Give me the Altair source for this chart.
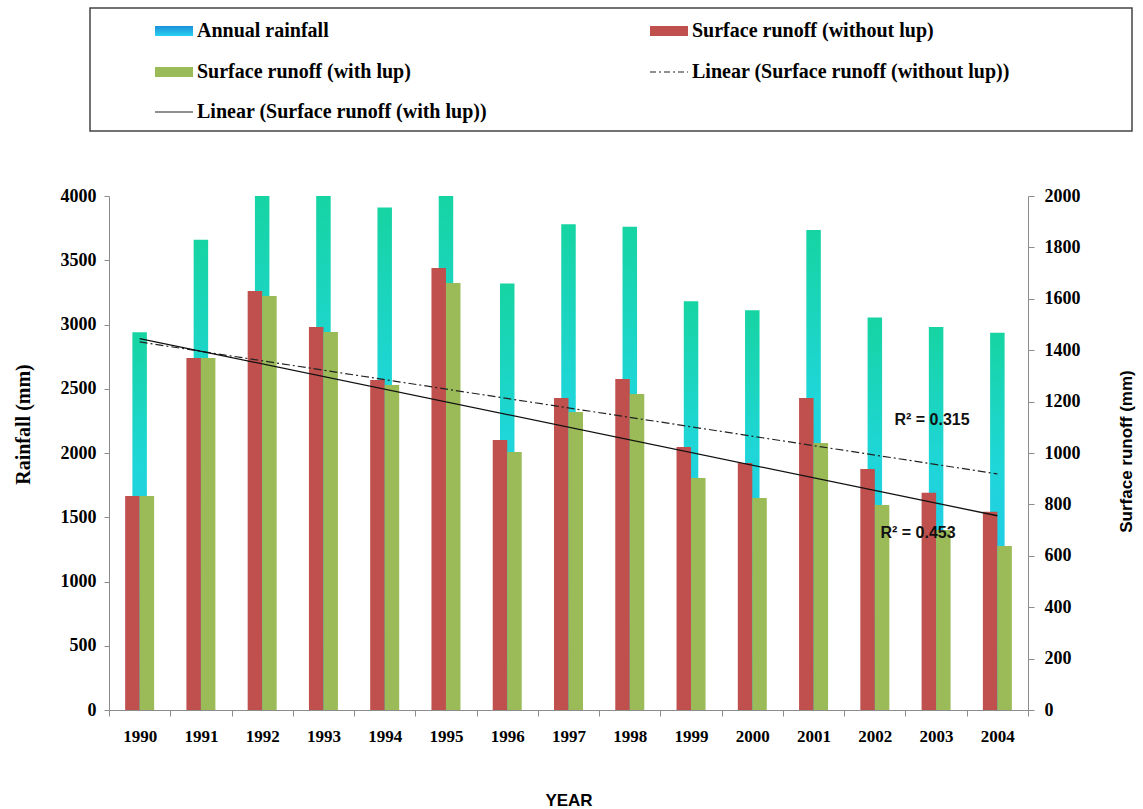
import altair as alt
import pandas as pd

# ---- data ----
years = list(range(1990, 2005))
rainfall = [2940, 3660, 4000, 4000, 3910, 4000, 3320, 3780, 3760, 3180, 3110, 3735, 3055, 2980, 2935]
runoff_without = [833, 1370, 1630, 1490, 1284, 1720, 1051, 1214, 1288, 1023, 961, 1214, 938, 845, 771]
runoff_with = [833, 1370, 1611, 1471, 1265, 1661, 1004, 1160, 1230, 903, 825, 1039, 798, 700, 638]
r2_labels = ["R\u00b2 = 0.315", "R\u00b2 = 0.453"]
legend_labels = [
    "Annual rainfall",
    "Surface runoff (without lup)",
    "Surface runoff (with lup)",
    "Linear (Surface runoff (without lup))",
    "Linear (Surface runoff (with lup))",
]

df = pd.DataFrame({"year": years, "rain": rainfall, "without": runoff_without, "with": runoff_with})
one = alt.Data(values=[{"k": 1}])

W, H = 919, 514
RED = "#c0504d"
GREEN = "#9bbb59"
SERIF = "Liberation Serif"
SANS = "Liberation Sans"
GRAY = "#8c8c8c"

rain_grad = alt.LinearGradient(
    gradient="linear", x1=0, x2=0, y1=0, y2=1,
    stops=[
        alt.GradientStop(color="#16d4a2", offset=0),
        alt.GradientStop(color="#1fd6d8", offset=0.35),
        alt.GradientStop(color="#22c8ec", offset=0.7),
        alt.GradientStop(color="#1ea6e4", offset=1),
    ],
)

xband = alt.Scale(paddingInner=0, paddingOuter=0)
xq = alt.Scale(domain=[1989.5, 2004.5], nice=False, zero=False)
yleft = alt.Scale(domain=[0, 4000], nice=False)
yright = alt.Scale(domain=[0, 2000], nice=False)

rain = alt.Chart(df).mark_bar(width=14.5, color=rain_grad).encode(
    x=alt.X("year:O", scale=xband, axis=alt.Axis(
        title="YEAR", labelAngle=0, tickBand="extent", tickSize=6, tickColor=GRAY,
        domainColor=GRAY, labelFont=SERIF, labelFontWeight="bold", labelFontSize=17,
        labelColor="#000", labelPadding=12, titleFont=SANS, titleFontWeight="bold",
        titleFontSize=17, titleColor="#000", titleY=90, titleBaseline="middle")),
    y=alt.Y("rain:Q", scale=yleft, axis=alt.Axis(
        title="Rainfall (mm)", values=list(range(0, 4001, 500)), format="d", grid=False,
        tickSize=5, tickColor=GRAY, domainColor=GRAY, labelFont=SERIF,
        labelFontWeight="bold", labelFontSize=18, labelColor="#000", labelPadding=8,
        titleFont=SERIF, titleFontWeight="bold", titleFontSize=20, titleColor="#000",
        titleAngle=270, titleX=-86, titleY=228, titleBaseline="middle", titleAlign="center")),
)

red = alt.Chart(df).mark_bar(width=14.5, xOffset=-7.25, color=RED).encode(
    x=alt.X("year:O", scale=xband, axis=None),
    y=alt.Y("without:Q", scale=yright, axis=alt.Axis(
        title="Surface runoff (mm)", orient="right", values=list(range(0, 2001, 200)),
        format="d", grid=False, tickSize=6, tickColor=GRAY, domainColor=GRAY, labelFont=SERIF,
        labelFontWeight="bold", labelFontSize=18, labelColor="#000", labelPadding=10,
        titleFont=SANS, titleFontWeight="bold", titleFontSize=17, titleColor="#000",
        titleAngle=270, titleX=98, titleY=255, titleBaseline="middle", titleAlign="center")),
)

green = alt.Chart(df).mark_bar(width=14.5, xOffset=7.25, color=GREEN).encode(
    x=alt.X("year:O", scale=xband, axis=None),
    y=alt.Y("with:Q", scale=yright, axis=None),
)

trend_without = alt.Chart(df).transform_regression(
    "year", "without", extent=[1990, 2004]
).mark_line(color="#222", strokeWidth=1.2, strokeDash=[8, 3, 2, 3]).encode(
    x=alt.X("year:Q", scale=xq, axis=None),
    y=alt.Y("without:Q", scale=yright, axis=None),
)

trend_with = alt.Chart(df).transform_regression(
    "year", "with", extent=[1990, 2004]
).mark_line(color="#111", strokeWidth=1.3).encode(
    x=alt.X("year:Q", scale=xq, axis=None),
    y=alt.Y("with:Q", scale=yright, axis=None),
)

def r2_text(label, x, y):
    return alt.Chart(one).mark_text(
        font=SANS, fontWeight="bold", fontSize=16, color="#111", align="center", baseline="middle"
    ).encode(x=alt.value(x), y=alt.value(y), text=alt.value(label))

r2a = r2_text(r2_labels[0], 823, 224)
r2b = r2_text(r2_labels[1], 809, 337)

# ---- legend box (above the plot area) ----
OX, OY = 109, 196  # plot origin in page pixels

legend_box = alt.Chart(one).mark_rect(fillOpacity=0, stroke="#444", strokeWidth=1.5).encode(
    x=alt.value(90 - OX), x2=alt.value(1132 - OX), y=alt.value(8 - OY), y2=alt.value(131 - OY)
)

def lg_text(label, x, y):
    return alt.Chart(one).mark_text(
        font=SERIF, fontWeight="bold", fontSize=20, color="#000", align="left", baseline="middle"
    ).encode(x=alt.value(x - OX), y=alt.value(y - OY), text=alt.value(label))

def lg_swatch(color, x, y):
    return alt.Chart(one).mark_rect(color=color).encode(
        x=alt.value(x - OX), x2=alt.value(x + 38 - OX), y=alt.value(y - 5 - OY), y2=alt.value(y + 5 - OY)
    )

def lg_line(x, y, dash=None):
    kw = dict(color="#222", strokeWidth=1.2)
    if dash:
        kw["strokeDash"] = dash
    return alt.Chart(one).mark_rule(**kw).encode(
        x=alt.value(x - OX), x2=alt.value(x + 38 - OX), y=alt.value(y - OY)
    )

swatch_grad = alt.LinearGradient(
    gradient="linear", x1=0, x2=0, y1=0, y2=1,
    stops=[alt.GradientStop(color="#1a8fd8", offset=0), alt.GradientStop(color="#2ad0f0", offset=1)],
)

C1, C2 = 155, 650
R1, R2, R3 = 31, 72, 112
legend_layers = [
    legend_box,
    lg_swatch(swatch_grad, C1, R1), lg_text(legend_labels[0], C1 + 42, R1),
    lg_swatch(RED, C2, R1), lg_text(legend_labels[1], C2 + 42, R1),
    lg_swatch(GREEN, C1, R2), lg_text(legend_labels[2], C1 + 42, R2),
    lg_line(C2, R2, [6, 3, 2, 3]), lg_text(legend_labels[3], C2 + 42, R2),
    lg_line(C1, R3), lg_text(legend_labels[4], C1 + 42, R3),
]

chart = alt.layer(
    rain, red, green, trend_without, trend_with, r2a, r2b, *legend_layers
).resolve_scale(
    x="independent", y="independent"
).properties(
    width=W, height=H,
    autosize=alt.AutoSizeParams(type="none"),
    padding={"left": OX, "top": OY, "right": 1143 - OX - W, "bottom": 809 - OY - H},
    background="white",
).configure_view(stroke=None)

chart.save("out.html", embed_options={"renderer": "svg", "actions": False})
